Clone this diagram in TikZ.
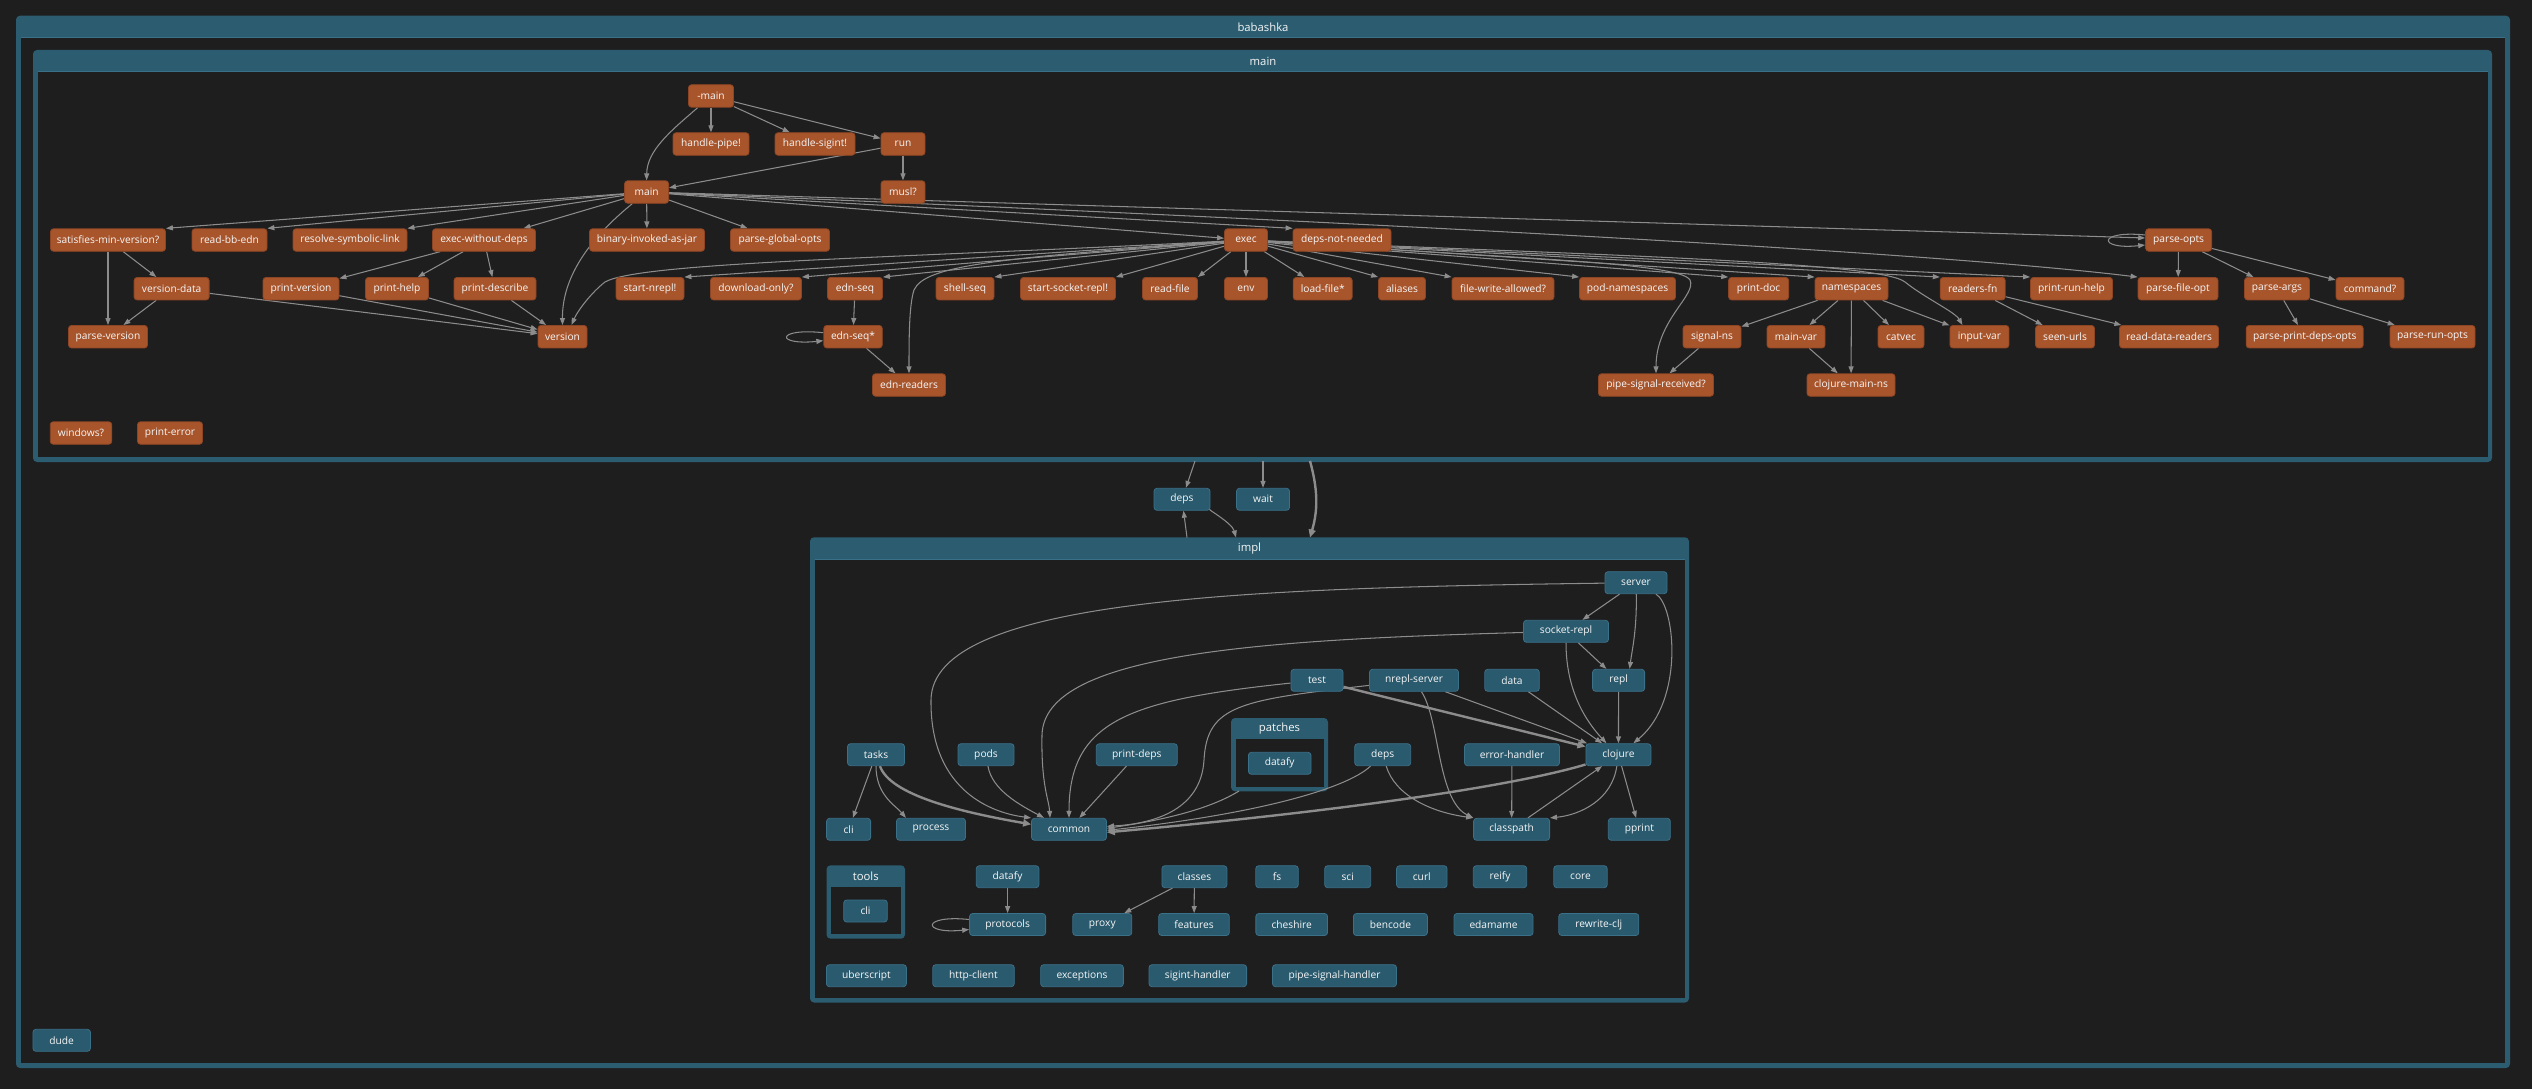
\documentclass[tikz,border=0pt]{standalone}
\usepackage{fontspec}
\setmainfont{Open Sans}
\usetikzlibrary{arrows.meta}
\definecolor{bgc}{HTML}{1E1E1E}
\definecolor{framec}{HTML}{2B5C70}
\definecolor{frameline}{HTML}{3A7189}
\definecolor{orfill}{HTML}{A8552C}
\definecolor{ordraw}{HTML}{8E4524}
\definecolor{blfill}{HTML}{295A6E}
\definecolor{bldraw}{HTML}{3B7089}
\definecolor{edgec}{HTML}{8C8C8C}
\definecolor{txtc}{HTML}{F7F7F7}
\pgfdeclarelayer{frames}
\pgfdeclarelayer{edges}
\pgfsetlayers{frames,edges,main}
\begin{document}
\begin{tikzpicture}[x=1pt,y=-1pt,
 basenode/.style={rounded corners=3pt, minimum height=22.5pt, inner xsep=2pt, inner ysep=0pt, text=txtc, font=\fontsize{10.2}{12}\selectfont, line width=0.8pt},
 onode/.style={basenode, fill=orfill, draw=ordraw},
 bnode/.style={basenode, fill=blfill, draw=bldraw, minimum height=22pt},
 edg/.style={draw=edgec, line width=1.05pt, -{Triangle[length=7pt,width=5pt]}},
 tedg/.style={draw=edgec, line width=2.4pt, -{Triangle[length=8pt,width=7pt]}},
 ttl/.style={text=txtc, font=\fontsize{11.3}{13}\selectfont, inner sep=0pt}]
\useasboundingbox (0,0) rectangle (2532,1089);

% ---------------- frames ----------------
\begin{pgfonlayer}{frames}
\fill[bgc] (0,0) rectangle (2532,1089);
% babashka
\fill[framec, rounded corners=4pt] (16,15.7) rectangle (2510,1068);
\fill[bgc] (21,37.7) rectangle (2505,1063);
\draw[frameline, line width=1pt] (21,37.7) -- (2505,37.7);
\node[ttl] (tbabashka) at (1263,27) {babashka};
% main
\fill[framec, rounded corners=4pt] (33,50) rectangle (2492,462);
\fill[bgc] (38,71.7) rectangle (2488,457);
\draw[frameline, line width=1pt] (38,71.7) -- (2488,71.7);
\node[ttl] (tmain) at (1263,61) {main};
% impl
\fill[framec, rounded corners=4pt] (810,537.3) rectangle (1689,1002.5);
\fill[bgc] (814.5,559) rectangle (1684.5,998);
\draw[frameline, line width=1pt] (814.5,559) -- (1684.5,559);
\node[ttl] (timpl) at (1249.5,548.5) {impl};
% patches
\fill[framec, rounded corners=4pt] (1231,718) rectangle (1328,791.3);
\fill[bgc] (1235.8,739.3) rectangle (1323.6,787.3);
\node[ttl] (tpatches) at (1279.5,729) {patches};
% tools
\fill[framec, rounded corners=4pt] (826.5,865.3) rectangle (905,938.7);
\fill[bgc] (831,887) rectangle (900.5,934.3);
\node[ttl] (ttools) at (865.7,876.5) {tools};
\end{pgfonlayer}

% ---------------- main cluster nodes ----------------
\node[onode, minimum width=45] (mmain) at (711,96) {-main};
\node[onode, minimum width=76] (hpipe) at (711,144) {handle-pipe!};
\node[onode, minimum width=80] (hsig) at (815,144) {handle-sigint!};
\node[onode, minimum width=44] (run) at (903,144) {run};
\node[onode, minimum width=44] (main) at (646.6,192) {main};
\node[onode, minimum width=44] (musl) at (903,192) {musl?};
\node[onode, minimum width=115] (smv) at (108,240) {satisfies-min-version?};
\node[onode, minimum width=75] (rbe) at (229.5,240) {read-bb-edn};
\node[onode, minimum width=114] (rsl) at (350,240) {resolve-symbolic-link};
\node[onode, minimum width=103] (ewd) at (484,240) {exec-without-deps};
\node[onode, minimum width=115] (bij) at (647,240) {binary-invoked-as-jar};
\node[onode, minimum width=99] (pgo) at (780,240) {parse-global-opts};
\node[onode, minimum width=43] (exec) at (1246,240) {exec};
\node[onode, minimum width=98] (dnn) at (1342,240) {deps-not-needed};
\node[onode, minimum width=66] (popts) at (2178.6,240) {parse-opts};
\node[onode, minimum width=75] (vdata) at (171.6,288.7) {version-data};
\node[onode, minimum width=76] (pver) at (301,288.7) {print-version};
\node[onode, minimum width=63] (phelp) at (397,288.7) {print-help};
\node[onode, minimum width=82] (pdesc) at (495,288.7) {print-describe};
\node[onode, minimum width=68] (snrepl) at (650,288.7) {start-nrepl!};
\node[onode, minimum width=91] (donly) at (756,288.7) {download-only?};
\node[onode, minimum width=55] (eseq) at (855,288.7) {edn-seq};
\node[onode, minimum width=58] (sseq) at (965,288.7) {shell-seq};
\node[onode, minimum width=95] (ssrepl) at (1068,288.7) {start-socket-repl!};
\node[onode, minimum width=55] (rfile) at (1170,288.7) {read-file};
\node[onode, minimum width=43] (env) at (1246,288.7) {env};
\node[onode, minimum width=59] (lfile) at (1322.7,288.7) {load-file*};
\node[onode, minimum width=47] (aliases) at (1402,288.7) {aliases};
\node[onode, minimum width=102] (fwa) at (1503,288.7) {file-write-allowed?};
\node[onode, minimum width=96] (podns) at (1627.5,288.7) {pod-namespaces};
\node[onode, minimum width=60] (pdoc) at (1758.6,288.7) {print-doc};
\node[onode, minimum width=73] (nss) at (1851.5,288.7) {namespaces};
\node[onode, minimum width=65] (rfn) at (1972.7,288.7) {readers-fn};
\node[onode, minimum width=82] (prh) at (2071.5,288.7) {print-run-help};
\node[onode, minimum width=80] (pfo) at (2178,288.7) {parse-file-opt};
\node[onode, minimum width=65] (pargs) at (2277,288.7) {parse-args};
\node[onode, minimum width=68] (cmd) at (2370,288.7) {command?};
\node[onode, minimum width=79] (pver2) at (108,336.7) {parse-version};
\node[onode, minimum width=49] (version) at (562.5,336.7) {version};
\node[onode, minimum width=58.5] (eseqs) at (853,336.7) {edn-seq*};
\node[onode, minimum width=58] (signs) at (1712,336.7) {signal-ns};
\node[onode, minimum width=58] (mvar) at (1796,336.7) {main-var};
\node[onode, minimum width=46] (catvec) at (1901,336.7) {catvec};
\node[onode, minimum width=59] (ivar) at (1979.4,336.7) {input-var};
\node[onode, minimum width=59] (surls) at (2065,336.7) {seen-urls};
\node[onode, minimum width=99] (rdr) at (2169,336.7) {read-data-readers};
\node[onode, minimum width=117] (ppdo) at (2304.7,336.7) {parse-print-deps-opts};
\node[onode, minimum width=85] (pro) at (2432.5,336.7) {parse-run-opts};
\node[onode, minimum width=73] (ereaders) at (909,385) {edn-readers};
\node[onode, minimum width=115] (psr) at (1656,385) {pipe-signal-received?};
\node[onode, minimum width=88] (cmns) at (1851,385) {clojure-main-ns};
\node[onode, minimum width=61.5] (win) at (81,433) {windows?};
\node[onode, minimum width=65] (perr) at (170,433) {print-error};

% ---------------- blue nodes ----------------
\node[bnode, minimum width=56] (deps1) at (1182,499.3) {deps};
\node[bnode, minimum width=53] (wait) at (1263,499.3) {wait};
\node[bnode, minimum width=62] (server) at (1636,582.7) {server};
\node[bnode, minimum width=85] (sockrepl) at (1566,631.3) {socket-repl};
\node[bnode, minimum width=52] (test) at (1317,680.3) {test};
\node[bnode, minimum width=89] (nrepl) at (1414,680.3) {nrepl-server};
\node[bnode, minimum width=54.5] (data) at (1512,680.3) {data};
\node[bnode, minimum width=52] (repl) at (1618.6,680.3) {repl};
\node[bnode, minimum width=57] (tasks) at (876,754.7) {tasks};
\node[bnode, minimum width=56] (pods) at (986,754.7) {pods};
\node[bnode, minimum width=81] (pdeps) at (1136.8,754.7) {print-deps};
\node[bnode, minimum width=62.6] (pdatafy) at (1279.7,763.3) {datafy};
\node[bnode, minimum width=56] (deps2) at (1382.7,754.7) {deps};
\node[bnode, minimum width=95] (errh) at (1512,754.7) {error-handler};
\node[bnode, minimum width=65] (clojure) at (1618.4,754.7) {clojure};
\node[bnode, minimum width=44] (cli) at (848.6,829.3) {cli};
\node[bnode, minimum width=69] (process) at (931,829.3) {process};
\node[bnode, minimum width=75] (common) at (1069,829.3) {common};
\node[bnode, minimum width=76] (classpath) at (1511.6,829.3) {classpath};
\node[bnode, minimum width=62] (pprint) at (1639.3,829.3) {pprint};
\node[bnode, minimum width=43.6] (tcli) at (865.5,911) {cli};
\node[bnode, minimum width=62.6] (datafy) at (1007.6,876.7) {datafy};
\node[bnode, minimum width=65] (classes) at (1194.4,876.7) {classes};
\node[bnode, minimum width=42.5] (fs) at (1277,876.7) {fs};
\node[bnode, minimum width=46] (sci) at (1347.7,876.7) {sci};
\node[bnode, minimum width=50.5] (curl) at (1421.8,876.7) {curl};
\node[bnode, minimum width=53.4] (reify) at (1500,876.7) {reify};
\node[bnode, minimum width=53.4] (core) at (1580.5,876.7) {core};
\node[bnode, minimum width=76] (protocols) at (1007.6,924.5) {protocols};
\node[bnode, minimum width=59] (proxy) at (1102.3,924.5) {proxy};
\node[bnode, minimum width=70.6] (features) at (1194,924.5) {features};
\node[bnode, minimum width=71.7] (cheshire) at (1291.7,924.5) {cheshire};
\node[bnode, minimum width=74] (bencode) at (1390.4,924.5) {bencode};
\node[bnode, minimum width=79] (edamame) at (1493.5,924.5) {edamame};
\node[bnode, minimum width=80] (rewriteclj) at (1598.8,924.5) {rewrite-clj};
\node[bnode, minimum width=80] (uber) at (866.4,975.7) {uberscript};
\node[bnode, minimum width=81.5] (httpc) at (973.5,975.7) {http-client};
\node[bnode, minimum width=82.7] (exc) at (1082,975.7) {exceptions};
\node[bnode, minimum width=97.6] (sigh) at (1197.8,975.7) {sigint-handler};
\node[bnode, minimum width=124] (psh) at (1334.5,975.7) {pipe-signal-handler};
\node[bnode, minimum width=57.5] (dude) at (61.7,1040.3) {dude};

% cluster border points
\coordinate (mainS1) at (1195,461);
\coordinate (mainS2) at (1263,461);
\coordinate (mainS3) at (1310,461);
\coordinate (implN1) at (1187,537.5);
\coordinate (implN2) at (1236,537.5);
\coordinate (implN3) at (1310,537.5);
\coordinate (patchS) at (1239,791);

% ---------------- edges ----------------
\begin{pgfonlayer}{edges}
% top of main
\draw[edg] (mmain) -- (hpipe);
\draw[edg] (mmain) -- (hsig);
\draw[edg] (mmain) -- (run);
\draw[edg] (mmain) .. controls (672,130) and (647,150) .. (main.north);
\draw[edg] (run) -- (main);
\draw[edg] (run) -- (musl);
% main fan
\draw[edg] (main) -- (smv.north east);
\draw[edg] (main) -- (rbe.north east);
\draw[edg] (main) -- (rsl.north east);
\draw[edg] (main) -- (ewd);
\draw[edg] (main) -- (bij);
\draw[edg] (main) -- (pgo);
\draw[edg] (main) -- (exec);
\draw[edg] (main) -- (dnn.north west);
\draw[edg] (main) .. controls (600,230) and (562,270) .. (version.north);
\draw[edg] (main) -- ([yshift=2]popts.west);
\draw[edg] (main) .. controls (1200,215) and (1900,248) .. (pfo.north west);
\draw[edg] ([yshift=5]popts.west) .. controls +(-48,-5) and +(-48,5) .. ([yshift=-5]popts.west);
% left branch
\draw[edg] (smv) -- (vdata);
\draw[edg] (smv) -- (pver2);
\draw[edg] (vdata) -- (pver2);
\draw[edg] (vdata) -- (version);
\draw[edg] (ewd) -- (pver);
\draw[edg] (ewd) -- (phelp);
\draw[edg] (ewd) -- (pdesc);
\draw[edg] (pver) -- (version);
\draw[edg] (phelp) -- (version);
\draw[edg] (pdesc) -- (version);
% exec fan
\draw[edg] (exec) .. controls (900,258) and (640,262) .. (605,282) .. controls (592,292) and (578,310) .. ([xshift=9]version.north);
\draw[edg] (exec) -- (snrepl.north east);
\draw[edg] (exec) -- (donly.north east);
\draw[edg] (exec) -- (eseq.north east);
\draw[edg] (exec) .. controls (1000,258) and (925,265) .. (914,290) .. controls (909,305) and (909,340) .. (ereaders.north);
\draw[edg] (exec) -- (sseq.north east);
\draw[edg] (exec) -- (ssrepl.north east);
\draw[edg] (exec) -- (rfile.north east);
\draw[edg] (exec) -- (env);
\draw[edg] (exec) -- (lfile);
\draw[edg] (exec) -- (aliases.north west);
\draw[edg] (exec) -- (fwa.north west);
\draw[edg] (exec) -- (podns.north west);
\draw[edg] (exec) .. controls (1500,258) and (1680,262) .. (1690,280) .. controls (1697,295) and (1656,320) .. (psr.north);
\draw[edg] (exec) -- (pdoc.north west);
\draw[edg] (exec) -- (nss.north west);
\draw[edg] (exec) .. controls (1600,255) and (1880,262) .. (1905,282) .. controls (1925,298) and (1955,312) .. ([xshift=-17]ivar.north);
\draw[edg] (exec) -- (rfn.north west);
\draw[edg] (exec) -- (prh.north west);
% lower branches
\draw[edg] (eseq) -- (eseqs);
\draw[edg] ([yshift=4]eseqs.west) .. controls +(-48,-5) and +(-48,5) .. ([yshift=-4]eseqs.west);
\draw[edg] (eseqs) -- (ereaders);
\draw[edg] (popts) -- (pfo);
\draw[edg] (popts) -- (pargs);
\draw[edg] (popts) -- (cmd);
\draw[edg] (pargs) -- (ppdo);
\draw[edg] (pargs) -- (pro);
\draw[edg] (rfn) -- (surls);
\draw[edg] (rfn) -- (rdr);
\draw[edg] (nss) -- (signs);
\draw[edg] (nss) -- (mvar);
\draw[edg] (nss) -- (cmns);
\draw[edg] (nss) -- (catvec);
\draw[edg] (nss) -- (ivar);
\draw[edg] (mvar) -- (cmns);
\draw[edg] (signs) -- (psr);
% between clusters
\draw[edg] (mainS1) -- (deps1);
\draw[edg] (mainS2) -- (wait);
\draw[tedg] (mainS3) .. controls (1318,490) and (1318,510) .. (implN3);
\draw[edg] (implN1) -- (deps1);
\draw[edg] (deps1) .. controls +(22,8) and +(-4,-15) .. (implN2);
% impl
\draw[edg] (server) .. controls (1250,588) and (932,598) .. (931,700) .. controls (930,785) and (985,812) .. (common.north west);
\draw[edg] (server) -- (sockrepl);
\draw[edg] (server) .. controls (1637,630) and (1632,650) .. ([xshift=11]repl.north);
\draw[edg] (server) .. controls (1675,605) and (1685,700) .. ([xshift=15]clojure.north);
\draw[edg] (sockrepl) .. controls (1250,640) and (1044,655) .. (1042,735) .. controls (1041,785) and (1049,800) .. ([xshift=-19]common.north);
\draw[edg] (sockrepl) -- (repl);
\draw[edg] (sockrepl) .. controls (1566,690) and (1585,720) .. ([xshift=-12]clojure.north);
\draw[edg] (test) .. controls (1130,700) and (1069,720) .. (common.north);
\draw[tedg] (test) -- (clojure);
\draw[edg] (nrepl) .. controls (1240,700) and (1207,705) .. (1204,760) .. controls (1201,812) and (1150,824) .. ([yshift=3]common.east);
\draw[edg] (nrepl) .. controls (1440,720) and (1437,800) .. (classpath.north west);
\draw[edg] (nrepl) -- (clojure);
\draw[edg] (data) -- (clojure);
\draw[edg] (repl) -- (clojure);
\draw[edg] (tasks) -- (cli);
\draw[edg] (tasks) .. controls (876,795) and (895,805) .. ([xshift=-25]process.north);
\draw[tedg] (tasks) .. controls (890,795) and (960,812) .. ([yshift=5]common.west);
\draw[edg] (pods) .. controls (992,790) and (1020,805) .. ([xshift=-25]common.north);
\draw[edg] (pdeps) -- (common);
\draw[edg] (patchS) .. controls (1205,812) and (1150,822) .. ([yshift=1]common.east);
\draw[edg] (deps2) .. controls (1345,790) and (1250,815) .. ([yshift=-1]common.east);
\draw[edg] (deps2) .. controls (1395,795) and (1430,812) .. (classpath.north west);
\draw[tedg] (clojure) .. controls (1500,790) and (1300,815) .. ([yshift=-3]common.east);
\draw[edg] (errh) -- (classpath);
\draw[edg] (clojure) .. controls (1612,800) and (1580,815) .. (classpath.north east);
\draw[edg] (classpath) -- (clojure);
\draw[edg] (clojure) -- (pprint);
\draw[edg] (datafy) -- (protocols);
\draw[edg] ([yshift=5]protocols.west) .. controls +(-48,-5) and +(-48,5) .. ([yshift=-5]protocols.west);
\draw[edg] (classes) -- (proxy);
\draw[edg] (classes) -- (features);
\end{pgfonlayer}
\end{tikzpicture}
\end{document}
